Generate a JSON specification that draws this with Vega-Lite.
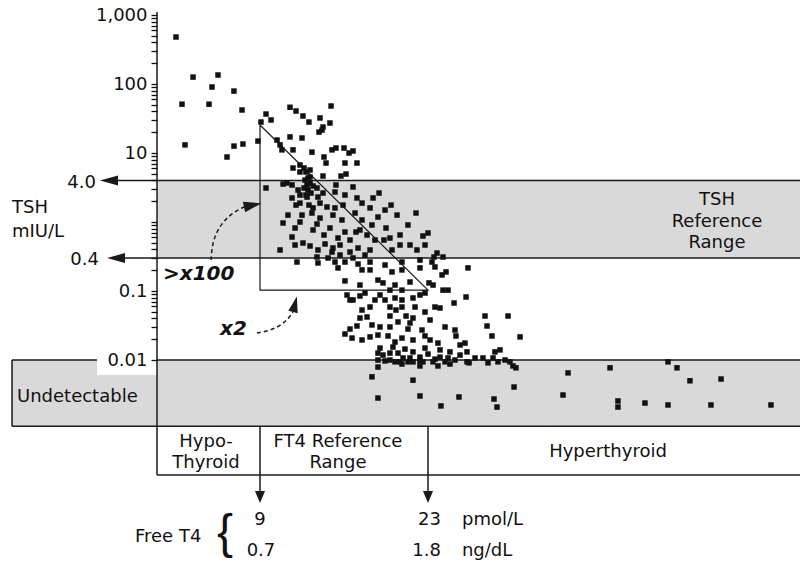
{
"$schema":"https://vega.github.io/schema/vega-lite/v6.json",
"width":800,"height":563,"padding":0,"autosize":{"type":"none"},
"background":"white",
"config":{"view":{"stroke":null},"text":{"font":"DejaVu Sans","fontSize":18,"color":"#111111"}},
"datasets":{
"points":[{"ft4":2.0,"tsh":480},{"ft4":3.42,"tsh":126},{"ft4":5.5,"tsh":135},{"ft4":5.0,"tsh":90.5},{"ft4":6.83,"tsh":79},{"ft4":2.5,"tsh":51},{"ft4":4.75,"tsh":51},{"ft4":7.5,"tsh":42},{"ft4":2.75,"tsh":13.1},{"ft4":6.25,"tsh":8.75},{"ft4":6.83,"tsh":12.6},{"ft4":7.58,"tsh":13.5},{"ft4":8.83,"tsh":14.9},{"ft4":9.08,"tsh":28.1},{"ft4":9.5,"tsh":36.7},{"ft4":9.92,"tsh":30.1},{"ft4":11.5,"tsh":46},{"ft4":12.0,"tsh":40.6},{"ft4":12.58,"tsh":34.4},{"ft4":13.08,"tsh":28.1},{"ft4":14.0,"tsh":32.2},{"ft4":14.92,"tsh":48},{"ft4":14.83,"tsh":27.2},{"ft4":14.25,"tsh":23.8},{"ft4":14.17,"tsh":21.5},{"ft4":13.92,"tsh":20.1},{"ft4":12.5,"tsh":16.5},{"ft4":10.42,"tsh":15.4},{"ft4":10.67,"tsh":13.1},{"ft4":10.83,"tsh":11.1},{"ft4":11.5,"tsh":17.1},{"ft4":11.75,"tsh":11.1},{"ft4":13.33,"tsh":10.3},{"ft4":14.33,"tsh":8.75},{"ft4":14.5,"tsh":7.16},{"ft4":15.0,"tsh":11.1},{"ft4":15.33,"tsh":11.8},{"ft4":16.0,"tsh":11.8},{"ft4":16.42,"tsh":10.0},{"ft4":16.75,"tsh":10.7},{"ft4":16.08,"tsh":7.16},{"ft4":17.08,"tsh":7.16},{"ft4":11.75,"tsh":6.06},{"ft4":13.17,"tsh":5.67},{"ft4":13.17,"tsh":4.49},{"ft4":14.25,"tsh":4.64},{"ft4":15.75,"tsh":4.64},{"ft4":16.17,"tsh":4.96},{"ft4":11.25,"tsh":3.68},{"ft4":10.92,"tsh":3.55},{"ft4":9.5,"tsh":3.11},{"ft4":13.0,"tsh":2.91},{"ft4":13.75,"tsh":3.11},{"ft4":15.33,"tsh":3.44},{"ft4":15.25,"tsh":2.72},{"ft4":16.75,"tsh":3.22},{"ft4":17.08,"tsh":2.23},{"ft4":18.42,"tsh":2.23},{"ft4":18.92,"tsh":2.63},{"ft4":12.75,"tsh":4.06},{"ft4":12.92,"tsh":3.44},{"ft4":12.83,"tsh":2.46},{"ft4":11.67,"tsh":3.44},{"ft4":12.17,"tsh":2.91},{"ft4":13.17,"tsh":3.68},{"ft4":19.92,"tsh":1.76},{"ft4":11.67,"tsh":2.23},{"ft4":12.33,"tsh":1.88},{"ft4":12.92,"tsh":2.3},{"ft4":13.42,"tsh":1.6},{"ft4":14.0,"tsh":1.88},{"ft4":14.58,"tsh":1.65},{"ft4":15.25,"tsh":1.6},{"ft4":15.92,"tsh":1.76},{"ft4":16.92,"tsh":1.35},{"ft4":18.17,"tsh":1.6},{"ft4":11.33,"tsh":1.26},{"ft4":12.5,"tsh":1.26},{"ft4":13.33,"tsh":1.35},{"ft4":14.0,"tsh":1.14},{"ft4":15.08,"tsh":1.26},{"ft4":15.83,"tsh":1.07},{"ft4":17.5,"tsh":1.07},{"ft4":18.83,"tsh":1.18},{"ft4":20.42,"tsh":1.26},{"ft4":22.0,"tsh":1.35},{"ft4":10.92,"tsh":0.967},{"ft4":11.92,"tsh":0.819},{"ft4":13.42,"tsh":0.766},{"ft4":14.83,"tsh":0.819},{"ft4":16.08,"tsh":0.716},{"ft4":16.5,"tsh":0.548},{"ft4":17.92,"tsh":0.648},{"ft4":19.5,"tsh":0.819},{"ft4":20.67,"tsh":0.648},{"ft4":21.33,"tsh":0.905},{"ft4":22.58,"tsh":0.627},{"ft4":11.67,"tsh":0.606},{"ft4":11.92,"tsh":0.464},{"ft4":12.58,"tsh":0.496},{"ft4":13.17,"tsh":0.449},{"ft4":13.83,"tsh":0.393},{"ft4":14.42,"tsh":0.48},{"ft4":15.08,"tsh":0.42},{"ft4":15.67,"tsh":0.464},{"ft4":16.5,"tsh":0.367},{"ft4":10.67,"tsh":0.393},{"ft4":13.75,"tsh":0.311},{"ft4":15.0,"tsh":0.367},{"ft4":15.67,"tsh":0.332},{"ft4":16.75,"tsh":0.301},{"ft4":17.17,"tsh":0.42},{"ft4":18.17,"tsh":0.393},{"ft4":19.33,"tsh":0.548},{"ft4":20.67,"tsh":0.464},{"ft4":22.08,"tsh":0.393},{"ft4":22.75,"tsh":0.464},{"ft4":23.75,"tsh":0.355},{"ft4":24.25,"tsh":0.311},{"ft4":12.08,"tsh":0.263},{"ft4":13.83,"tsh":0.255},{"ft4":15.25,"tsh":0.263},{"ft4":16.08,"tsh":0.263},{"ft4":17.17,"tsh":0.246},{"ft4":18.17,"tsh":0.263},{"ft4":19.42,"tsh":0.238},{"ft4":20.83,"tsh":0.263},{"ft4":22.33,"tsh":0.281},{"ft4":23.33,"tsh":0.263},{"ft4":15.5,"tsh":0.216},{"ft4":18.17,"tsh":0.202},{"ft4":20.0,"tsh":0.189},{"ft4":20.83,"tsh":0.202},{"ft4":22.33,"tsh":0.216},{"ft4":24.5,"tsh":0.189},{"ft4":23.42,"tsh":0.122},{"ft4":16.08,"tsh":0.14},{"ft4":17.33,"tsh":0.122},{"ft4":19.25,"tsh":0.131},{"ft4":20.83,"tsh":0.103},{"ft4":22.75,"tsh":0.0935},{"ft4":24.25,"tsh":0.103},{"ft4":23.0,"tsh":0.693},{"ft4":23.5,"tsh":0.311},{"ft4":24.17,"tsh":0.171},{"ft4":26.33,"tsh":0.216},{"ft4":23.58,"tsh":0.223},{"ft4":23.08,"tsh":0.131},{"ft4":24.67,"tsh":0.103},{"ft4":26.17,"tsh":0.0819},{"ft4":25.17,"tsh":0.067},{"ft4":24.0,"tsh":0.0567},{"ft4":16.25,"tsh":0.0875},{"ft4":16.75,"tsh":0.0741},{"ft4":17.33,"tsh":0.0847},{"ft4":17.75,"tsh":0.0935},{"ft4":19.0,"tsh":0.0875},{"ft4":19.83,"tsh":0.103},{"ft4":20.25,"tsh":0.0792},{"ft4":20.83,"tsh":0.0741},{"ft4":21.75,"tsh":0.0792},{"ft4":22.33,"tsh":0.0875},{"ft4":18.17,"tsh":0.0586},{"ft4":19.83,"tsh":0.0586},{"ft4":20.83,"tsh":0.0586},{"ft4":21.92,"tsh":0.0586},{"ft4":22.75,"tsh":0.0496},{"ft4":23.58,"tsh":0.0586},{"ft4":17.92,"tsh":0.042},{"ft4":19.83,"tsh":0.0434},{"ft4":21.17,"tsh":0.0434},{"ft4":21.75,"tsh":0.0406},{"ft4":27.75,"tsh":0.0434},{"ft4":29.67,"tsh":0.0434},{"ft4":27.92,"tsh":0.0311},{"ft4":24.42,"tsh":0.0301},{"ft4":25.25,"tsh":0.0272},{"ft4":16.5,"tsh":0.0281},{"ft4":17.08,"tsh":0.0311},{"ft4":19.0,"tsh":0.0301},{"ft4":19.83,"tsh":0.0301},{"ft4":21.33,"tsh":0.0281},{"ft4":22.5,"tsh":0.0272},{"ft4":16.08,"tsh":0.0238},{"ft4":16.67,"tsh":0.0208},{"ft4":18.17,"tsh":0.0216},{"ft4":18.83,"tsh":0.023},{"ft4":19.67,"tsh":0.0223},{"ft4":20.83,"tsh":0.0208},{"ft4":21.75,"tsh":0.0195},{"ft4":22.75,"tsh":0.0223},{"ft4":23.83,"tsh":0.0176},{"ft4":25.33,"tsh":0.0223},{"ft4":26.08,"tsh":0.0176},{"ft4":28.33,"tsh":0.0223},{"ft4":30.67,"tsh":0.0216},{"ft4":19.0,"tsh":0.0149},{"ft4":20.08,"tsh":0.0154},{"ft4":21.08,"tsh":0.0144},{"ft4":21.75,"tsh":0.0131},{"ft4":24.0,"tsh":0.014},{"ft4":24.83,"tsh":0.0131},{"ft4":26.25,"tsh":0.0131},{"ft4":28.58,"tsh":0.0131},{"ft4":29.0,"tsh":0.014},{"ft4":18.83,"tsh":0.0126},{"ft4":19.83,"tsh":0.0126},{"ft4":20.5,"tsh":0.0126},{"ft4":20.92,"tsh":0.0107},{"ft4":21.5,"tsh":0.0107},{"ft4":22.33,"tsh":0.011},{"ft4":23.0,"tsh":0.0122},{"ft4":23.58,"tsh":0.0103},{"ft4":24.0,"tsh":0.011},{"ft4":24.67,"tsh":0.0107},{"ft4":25.25,"tsh":0.01},{"ft4":18.83,"tsh":0.01},{"ft4":19.42,"tsh":0.0097},{"ft4":20.25,"tsh":0.0094},{"ft4":21.33,"tsh":0.0094},{"ft4":21.75,"tsh":0.0094},{"ft4":22.33,"tsh":0.0097},{"ft4":23.42,"tsh":0.0094},{"ft4":24.42,"tsh":0.0094},{"ft4":26.25,"tsh":0.0094},{"ft4":28.42,"tsh":0.0107},{"ft4":28.83,"tsh":0.0094},{"ft4":29.42,"tsh":0.01},{"ft4":29.83,"tsh":0.0094},{"ft4":30.08,"tsh":0.0082},{"ft4":30.33,"tsh":0.0077},{"ft4":18.83,"tsh":0.0079},{"ft4":22.33,"tsh":0.0082},{"ft4":26.42,"tsh":0.0091},{"ft4":28.0,"tsh":0.0091},{"ft4":30.17,"tsh":0.00406},{"ft4":18.33,"tsh":0.0057},{"ft4":21.75,"tsh":0.0051},{"ft4":18.83,"tsh":0.00281},{"ft4":22.33,"tsh":0.00301},{"ft4":25.58,"tsh":0.00291},{"ft4":28.5,"tsh":0.00272},{"ft4":24.08,"tsh":0.00216},{"ft4":28.75,"tsh":0.00208},{"ft4":34.67,"tsh":0.0065},{"ft4":38.17,"tsh":0.0077},{"ft4":43.0,"tsh":0.0094},{"ft4":43.75,"tsh":0.0077},{"ft4":44.83,"tsh":0.005},{"ft4":47.42,"tsh":0.0053},{"ft4":34.25,"tsh":0.00311},{"ft4":38.83,"tsh":0.00255},{"ft4":38.83,"tsh":0.00208},{"ft4":41.08,"tsh":0.00238},{"ft4":43.0,"tsh":0.00223},{"ft4":46.58,"tsh":0.00223},{"ft4":51.58,"tsh":0.00223},{"ft4":12.33,"tsh":5.31},{"ft4":12.67,"tsh":6.06},{"ft4":13.42,"tsh":3.33},{"ft4":12.33,"tsh":2.46},{"ft4":13.83,"tsh":2.3},{"ft4":14.25,"tsh":2.63},{"ft4":16.08,"tsh":2.46},{"ft4":17.5,"tsh":1.88},{"ft4":19.42,"tsh":1.49},{"ft4":17.33,"tsh":0.766},{"ft4":18.58,"tsh":0.548},{"ft4":20.0,"tsh":0.393},{"ft4":21.5,"tsh":0.464},{"ft4":17.75,"tsh":0.332},{"ft4":18.83,"tsh":0.144},{"ft4":20.25,"tsh":0.122},{"ft4":21.5,"tsh":0.135},{"ft4":17.5,"tsh":0.053},{"ft4":19.42,"tsh":0.0741},{"ft4":20.5,"tsh":0.0356},{"ft4":23.17,"tsh":0.038},{"ft4":17.5,"tsh":0.0195},{"ft4":20.25,"tsh":0.0182},{"ft4":23.17,"tsh":0.0195},{"ft4":20.67,"tsh":0.0094},{"ft4":19.83,"tsh":0.01},{"ft4":22.58,"tsh":0.0094},{"ft4":25.67,"tsh":0.0118},{"ft4":12.33,"tsh":6.7},{"ft4":12.83,"tsh":5.31},{"ft4":13.0,"tsh":4.34},{"ft4":12.67,"tsh":3.11},{"ft4":13.25,"tsh":2.63},{"ft4":12.0,"tsh":1.76},{"ft4":13.08,"tsh":1.76},{"ft4":12.33,"tsh":1.0},{"ft4":13.75,"tsh":0.935},{"ft4":14.33,"tsh":0.648},{"ft4":15.5,"tsh":0.586},{"ft4":17.0,"tsh":0.716},{"ft4":18.33,"tsh":0.905},{"ft4":19.83,"tsh":0.586},{"ft4":14.67,"tsh":0.301},{"ft4":17.5,"tsh":0.202},{"ft4":16.5,"tsh":0.0741},{"ft4":18.58,"tsh":0.0741},{"ft4":17.33,"tsh":0.0406},{"ft4":18.33,"tsh":0.0322},{"ft4":20.33,"tsh":0.053},{"ft4":21.5,"tsh":0.0344},{"ft4":19.25,"tsh":0.0118},{"ft4":22.75,"tsh":0.0149},{"ft4":25.67,"tsh":0.0165},{"ft4":26.92,"tsh":0.0107},{"ft4":27.58,"tsh":0.0107},{"ft4":20.83,"tsh":0.00875},{"ft4":24.83,"tsh":0.00875},{"ft4":23.83,"tsh":0.0082}],
"bands":[{"name":"TSH reference range","x":0.417,"x2":54,"y":0.3,"y2":4.0},{"name":"Undetectable","x":-11.667,"x2":54,"y":0.0011,"y2":0.01}],
"whitebox":[{"x":-4.583,"x2":0.417,"y":0.00606,"y2":0.011}],
"lines":[{"x":-2.9,"x2":54,"y":4,"y2":4},{"x":-2.3,"x2":54,"y":0.3,"y2":0.3},{"x":-11.667,"x2":-4.583,"y":0.01,"y2":0.01},{"x":0.417,"x2":54,"y":0.01,"y2":0.01},{"x":-11.667,"x2":54,"y":0.0011,"y2":0.0011},{"x":-11.667,"x2":-11.667,"y":0.0011,"y2":0.01},{"x":0.417,"x2":54,"y":0.000215,"y2":0.000215},{"x":9,"x2":9,"y":0.0011,"y2":0.000126},{"x":23,"x2":23,"y":0.0011,"y2":0.000126},{"x":0.417,"x2":0.417,"y":1105,"y2":0.000215}],
"triangle":[{"i":0,"x":9,"y":25.5},{"i":1,"x":9,"y":0.103},{"i":2,"x":23,"y":0.103},{"i":3,"x":9,"y":25.5}],
"curves":[{"curve":"x100","i":0,"x":4.917,"y":0.281},{"curve":"x100","i":1,"x":5.0,"y":0.449},{"curve":"x100","i":2,"x":5.333,"y":0.693},{"curve":"x100","i":3,"x":5.917,"y":1.0},{"curve":"x100","i":4,"x":6.667,"y":1.35},{"curve":"x100","i":5,"x":7.667,"y":1.65},{"curve":"x2","i":0,"x":8.75,"y":0.0246},{"curve":"x2","i":1,"x":9.667,"y":0.0263},{"curve":"x2","i":2,"x":10.5,"y":0.0301},{"curve":"x2","i":3,"x":11.167,"y":0.0367},{"curve":"x2","i":4,"x":11.583,"y":0.0449},{"curve":"x2","i":5,"x":11.75,"y":0.0496}],
"headsLeft":[{"x":-2.833,"y":4.0},{"x":-2.25,"y":0.3}],
"headsDown":[{"x":9,"y":0.000126},{"x":23,"y":0.000126}],
"headCurve1":[{"x":7.667,"y":1.65}],
"headCurve2":[{"x":11.75,"y":0.0496}],
"textLeft":[{"x":-11.667,"y":1.35,"label":"TSH"},{"x":-11.667,"y":0.606,"label":"mIU/L"},{"x":-11.25,"y":0.00246,"label":"Undetectable"},{"x":-1.417,"y":2.3e-5,"label":"Free T4"},{"x":25.83,"y":4.06e-5,"label":"pmol/L"},{"x":25.83,"y":1.44e-5,"label":"ng/dL"}],
"textCenter":[{"x":47.08,"y":1.76,"label":"TSH"},{"x":47.08,"y":0.846,"label":"Reference"},{"x":47.08,"y":0.42,"label":"Range"},{"x":4.5,"y":5.48e-4,"label":"Hypo-"},{"x":4.5,"y":2.72e-4,"label":"Thyroid"},{"x":15.5,"y":5.48e-4,"label":"FT4 Reference"},{"x":15.5,"y":2.72e-4,"label":"Range"},{"x":38.0,"y":3.93e-4,"label":"Hyperthyroid"},{"x":9.0,"y":4.06e-5,"label":"9"},{"x":9.08,"y":1.44e-5,"label":"0.7"}],
"textRight":[{"x":-4.667,"y":3.11,"label":"4.0"},{"x":-4.417,"y":0.238,"label":"0.4"},{"x":24.08,"y":4.06e-5,"label":"23"},{"x":24.08,"y":1.44e-5,"label":"1.8"}],
"textBold":[{"x":0.917,"y":0.144,"label":">x100"},{"x":5.667,"y":0.023,"label":"x2"}],
"brace":[{"x":6.083,"y":1.88e-5,"label":"{"}]
},
"encoding":{
"x":{"field":"x","type":"quantitative","scale":{"domain":[-12.667,54],"nice":false,"zero":false},"axis":null},
"y":{"field":"y","type":"quantitative","scale":{"type":"log","domain":[1.1428e-5,1650],"nice":false},
"axis":{"orient":"left","offset":-157,"values":[1000,900,800,700,600,500,400,300,200,100,90,80,70,60,50,40,30,20,10,9,8,7,6,5,4,3,2,1,0.9,0.8,0.7,0.6,0.5,0.4,0.3,0.2,0.1,0.09,0.08,0.07,0.06,0.05,0.04,0.03,0.02,0.01],
"labelExpr":"datum.value == 1000 ? '1,000' : datum.value == 100 ? '100' : datum.value == 10 ? '10' : datum.value == 0.1 ? '0.1' : datum.value == 0.01 ? '0.01' : ''",
"ticks":true,"tickSize":6,"tickWidth":1.3,"tickColor":"#111111","tickOpacity":1,"domain":false,"grid":false,"title":null,"labelFont":"DejaVu Sans","labelFontSize":18,"labelColor":"#111111","labelPadding":4,"labelOverlap":false,"labelBound":false,"labelFlush":false,"zindex":1}}
},
"layer":[
{"data":{"name":"bands"},"mark":{"type":"rect","color":"#d9d9d9"},"encoding":{"x2":{"field":"x2"},"y2":{"field":"y2"}}},
{"data":{"name":"whitebox"},"mark":{"type":"rect","color":"#ffffff"},"encoding":{"x2":{"field":"x2"},"y2":{"field":"y2"}}},
{"data":{"name":"lines"},"mark":{"type":"rule","color":"#1a1a1a","strokeWidth":1.5},"encoding":{"x2":{"field":"x2"},"y2":{"field":"y2"}}},
{"data":{"name":"triangle"},"mark":{"type":"line","color":"#1a1a1a","strokeWidth":1.2},"encoding":{"order":{"field":"i","type":"quantitative"}}},
{"data":{"name":"curves"},"mark":{"type":"line","color":"#1a1a1a","strokeWidth":1.5,"strokeDash":[4,3],"interpolate":"basis"},"encoding":{"order":{"field":"i","type":"quantitative"},"detail":{"field":"curve","type":"nominal"}}},
{"data":{"name":"headsLeft"},"mark":{"type":"point","shape":"M-1,0L0,-0.28L0,0.28Z","filled":true,"size":1296,"color":"#1a1a1a","opacity":1,"strokeWidth":0}},
{"data":{"name":"headsDown"},"mark":{"type":"point","shape":"M0,1L-0.42,0L0.42,0Z","filled":true,"size":576,"color":"#1a1a1a","opacity":1,"strokeWidth":0}},
{"data":{"name":"headCurve1"},"mark":{"type":"point","shape":"M1,0L0,-0.3L0,0.3Z","filled":true,"size":1296,"angle":-12,"color":"#1a1a1a","opacity":1,"strokeWidth":0}},
{"data":{"name":"headCurve2"},"mark":{"type":"point","shape":"M0,-1L-0.3,0L0.3,0Z","filled":true,"size":1024,"angle":14,"color":"#1a1a1a","opacity":1,"strokeWidth":0}},
{"data":{"name":"points"},"mark":{"type":"point","shape":"square","filled":true,"size":30,"color":"#111111","opacity":1,"strokeWidth":0},
"encoding":{"x":{"field":"ft4","type":"quantitative","scale":{"domain":[-12.667,54],"nice":false,"zero":false},"axis":null},
"y":{"field":"tsh","type":"quantitative","scale":{"type":"log","domain":[1.1428e-5,1650],"nice":false},
"axis":{"orient":"left","offset":-157,"values":[1000,900,800,700,600,500,400,300,200,100,90,80,70,60,50,40,30,20,10,9,8,7,6,5,4,3,2,1,0.9,0.8,0.7,0.6,0.5,0.4,0.3,0.2,0.1,0.09,0.08,0.07,0.06,0.05,0.04,0.03,0.02,0.01],
"labelExpr":"datum.value == 1000 ? '1,000' : datum.value == 100 ? '100' : datum.value == 10 ? '10' : datum.value == 0.1 ? '0.1' : datum.value == 0.01 ? '0.01' : ''",
"ticks":true,"tickSize":6,"tickWidth":1.3,"tickColor":"#111111","tickOpacity":1,"domain":false,"grid":false,"title":null,"labelFont":"DejaVu Sans","labelFontSize":18,"labelColor":"#111111","labelPadding":4,"labelOverlap":false,"labelBound":false,"labelFlush":false,"zindex":1}}}},
{"data":{"name":"textLeft"},"mark":{"type":"text","align":"left","baseline":"alphabetic"},"encoding":{"text":{"field":"label"}}},
{"data":{"name":"textCenter"},"mark":{"type":"text","align":"center","baseline":"alphabetic"},"encoding":{"text":{"field":"label"}}},
{"data":{"name":"textRight"},"mark":{"type":"text","align":"right","baseline":"alphabetic"},"encoding":{"text":{"field":"label"}}},
{"data":{"name":"textBold"},"mark":{"type":"text","align":"left","baseline":"alphabetic","fontSize":20,"fontWeight":"bold","fontStyle":"italic"},"encoding":{"text":{"field":"label"}}},
{"data":{"name":"brace"},"mark":{"type":"text","align":"center","baseline":"alphabetic","font":"Liberation Sans","fontSize":48},"encoding":{"text":{"field":"label"}}}
]
}
